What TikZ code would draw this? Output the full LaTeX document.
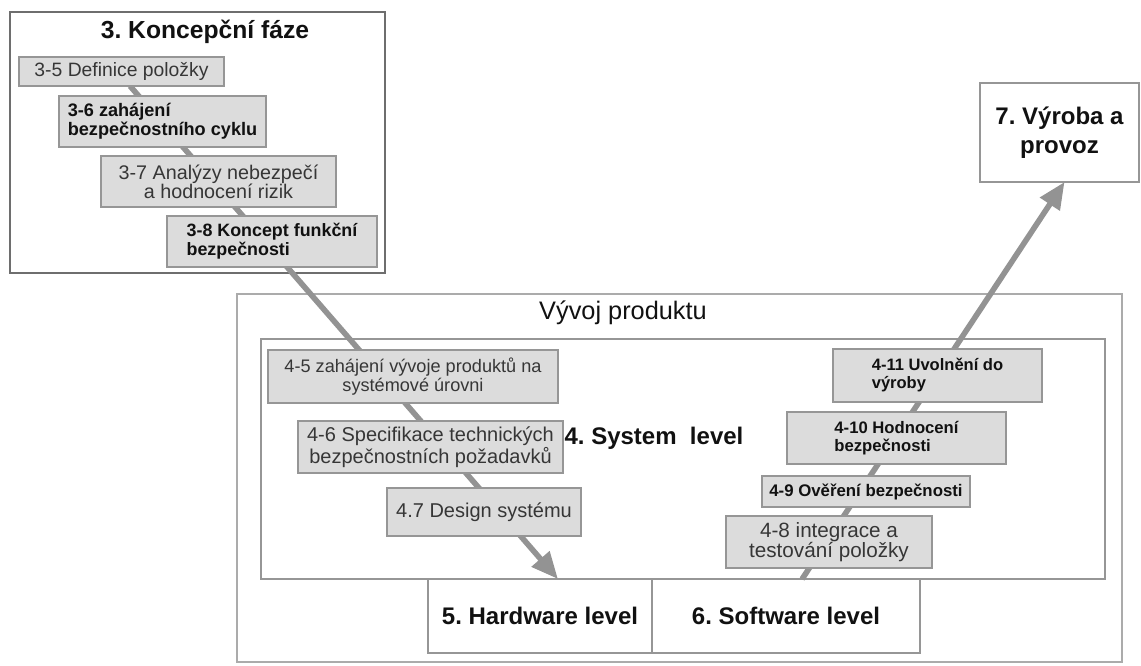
\documentclass[tikz,border=0pt]{standalone}
\usepackage{fontspec}
\setmainfont{Liberation Sans}
\usetikzlibrary{arrows.meta,calc}

\pgfdeclarelayer{frames}
\pgfdeclarelayer{flow}
\pgfsetlayers{frames,flow,main}

\definecolor{boxfill}{HTML}{DCDCDC}
\definecolor{boxline}{HTML}{969696}
\definecolor{flowgray}{HTML}{939393}
\definecolor{txtgray}{HTML}{363636}
\definecolor{txtdark}{HTML}{111111}
\definecolor{frameline}{HTML}{ABABAB}
\definecolor{darkframe}{HTML}{6E6E6E}

% font size helper: size and baseline skip in pt
\newcommand\setfs[2]{\fontsize{#1pt}{#2pt}\selectfont\frenchspacing}

% box from its corners (x1,y1)-(x2,y2), given in pixel units
\newcommand\placebox[7]{%
  \node[#6, minimum width={(#4-#2)*0.75pt}, minimum height={(#5-#3)*0.75pt}]
    (#1) at ({(#2+#4)/2},{(#3+#5)/2}) {#7};}

\tikzset{
  stepbox/.style={draw=boxline, line width=1.2pt, fill=boxfill, inner sep=1pt, outer sep=0pt},
  regtext/.style={text=txtgray, align=center},
  boldtext/.style={text=txtdark, align=left, font=\bfseries},
  frame/.style={draw=frameline, line width=1.4pt, fill=white, inner sep=0pt, outer sep=0pt},
  heading/.style={text=txtdark, font=\bfseries\setfs{18}{21.6}, align=center},
  flowline/.style={draw=flowgray, line width=4.2pt, -{Triangle[length=20pt,width=17pt]}},
}

\begin{document}
\begin{tikzpicture}[x=0.75pt, y=-0.75pt]
  \useasboundingbox (0,0) rectangle (1141,666);

  % page area and large frames
  \begin{pgfonlayer}{frames}
    \fill[white] (0,0) rectangle (1141,666);
    \placebox{concept}{10}{12}{385}{273}{frame, draw=darkframe}{}
    \placebox{product}{237}{294}{1122}{662}{frame}{}
    \placebox{system}{261}{339}{1105}{579}{frame, draw=boxline}{}
    \placebox{hw}{428}{579}{652}{653}{frame, draw=boxline, heading}{5. Hardware level}
    \placebox{sw}{652}{579}{920}{653}{frame, draw=boxline, heading}{6. Software level}
    \placebox{prod}{980}{83}{1139}{182}{frame, draw=boxline, heading}{7. Výroba a\\provoz}
  \end{pgfonlayer}

  % headings inside frames
  \node[heading, font=\bfseries\setfs{18.5}{22}] (tconcept) at (205,32) {3. Koncepční fáze};
  \node[text=txtdark, font=\setfs{19}{22}] (tproduct) at (623,313) {Vývoj produktu};
  \node[heading] (tsystem) at (654,438) {4. System\ \ level};

  % concept phase steps
  \placebox{s35}{19}{57}{224}{86}{stepbox, regtext, font=\setfs{14.5}{15}}{3-5 Definice položky}
  \placebox{s36}{59}{96}{266}{147}{stepbox, boldtext, font=\bfseries\setfs{13.6}{14.2}}{3-6 zahájení\\bezpečnostního cyklu}
  \placebox{s37}{101}{156}{336}{207}{stepbox, regtext, font=\setfs{14.8}{14}}{3-7 Analýzy nebezpečí\\a hodnocení rizik}
  \placebox{s38}{167}{216}{377}{267}{stepbox, boldtext, font=\bfseries\setfs{13.4}{14.2}}{3-8 Koncept funkční\\bezpečnosti}

  % system level, left branch
  \placebox{s45}{268}{350}{558}{403}{stepbox, regtext, font=\setfs{13.6}{14}}{4-5 zahájení vývoje produktů na\\systémové úrovni}
  \placebox{s46}{298}{421}{563}{473}{stepbox, regtext, font=\setfs{15}{14.5}}{4-6 Specifikace technických\\bezpečnostních požadavků}
  \placebox{s47}{387}{488}{581}{536}{stepbox, regtext, font=\setfs{15}{15}}{4.7 Design systému}

  % system level, right branch
  \placebox{s48}{726}{516}{932}{568}{stepbox, regtext, font=\setfs{15.5}{15.5}}{4-8 integrace a\\testování položky}
  \placebox{s49}{762}{476}{970}{507}{stepbox, boldtext, font=\bfseries\setfs{12.6}{13}}{4-9 Ověření bezpečnosti}
  \placebox{s410}{787}{412}{1006}{464}{stepbox, boldtext, font=\bfseries\setfs{12.5}{13.5}}{4-10 Hodnocení\\bezpečnosti}
  \placebox{s411}{833}{349}{1042}{402}{stepbox, boldtext, font=\bfseries\setfs{12.4}{13.5}}{4-11 Uvolnění do\\výroby}

  % flow through the phases
  \coordinate (downstart) at ($(s35.south)+(8.5,0)$);
  \coordinate (downend) at ($(hw.north west)!0.58!(hw.north east)$);
  \coordinate (upstart) at ($(sw.north west)!0.56!(sw.north east)$);
  \coordinate (upend) at ($(prod.south)+(5,0)$);
  \begin{pgfonlayer}{flow}
    \draw[flowline] (downstart) -- (downend);
    \draw[flowline] (upstart) -- (upend);
  \end{pgfonlayer}
\end{tikzpicture}
\end{document}
